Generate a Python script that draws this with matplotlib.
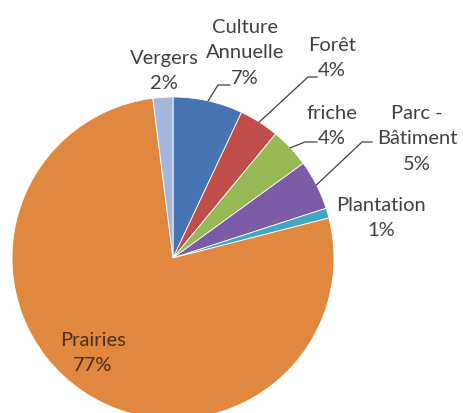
import numpy as np
import matplotlib.pyplot as plt

plt.rcParams['font.family'] = ['Lato', 'DejaVu Sans']

# land use shares (%)
categories = ['Culture\nAnnuelle', 'Forêt', 'friche', 'Parc -\nBâtiment',
              'Plantation', 'Prairies', 'Vergers']
values = [7, 4, 4, 5, 1, 77, 2]
colors = ['#4674b3', '#bf4d4a', '#97b955', '#7b5ba6', '#40a6c4', '#e0883f', '#a3b7dd']

W, H = 463, 414
fig = plt.figure(figsize=(W / 100, H / 100), dpi=100)
ax = fig.add_axes([0, 0, 1, 1])

cx, cy, R = 173, H - 259, 161
wedges, _ = ax.pie(values, colors=colors, startangle=90, counterclock=False,
                   center=(cx, cy), radius=R,
                   wedgeprops=dict(edgecolor='white', linewidth=0.6))
ax.set_xlim(0, W)
ax.set_ylim(0, H)
ax.axis('off')

def py(y):
    return H - y

# label block centres (pixels from top-left) and leader elbows
label_pos = {
    'Culture\nAnnuelle': (245, 53),
    'Forêt': (332, 58),
    'friche': (332, 126),
    'Parc -\nBâtiment': (417, 139),
    'Plantation': (381, 218),
    'Prairies': (93, 353),
    'Vergers': (164, 71),
}
leaders = {
    'Culture\nAnnuelle': (218, 230, 86),
    'Forêt': (308, 317, 78),
    'friche': (305, 317, 143),
    'Parc -\nBâtiment': (362, 372, 143),
}

total = sum(values)
ang = 90.0
for cat, v, w in zip(categories, values, wedges):
    pct = 100 * v / total
    mid = np.deg2rad(ang - 360 * v / total / 2)
    ang -= 360 * v / total
    x, y = label_pos[cat]
    tcol = '#4d2a14' if cat == 'Prairies' else '#404040'
    ax.text(x, py(y), f'{cat}\n{pct:.0f}%', ha='center', va='center',
            fontsize=14.5, color=tcol, linespacing=1.6)
    if cat in leaders:
        x0, x1, ly = leaders[cat]
        ex, ey = cx + R * np.cos(mid), cy + R * np.sin(mid)
        ax.plot([ex, x0, x1], [ey, py(ly), py(ly)], color='#404040', lw=0.9)

fig.savefig('out.png', dpi=100)
